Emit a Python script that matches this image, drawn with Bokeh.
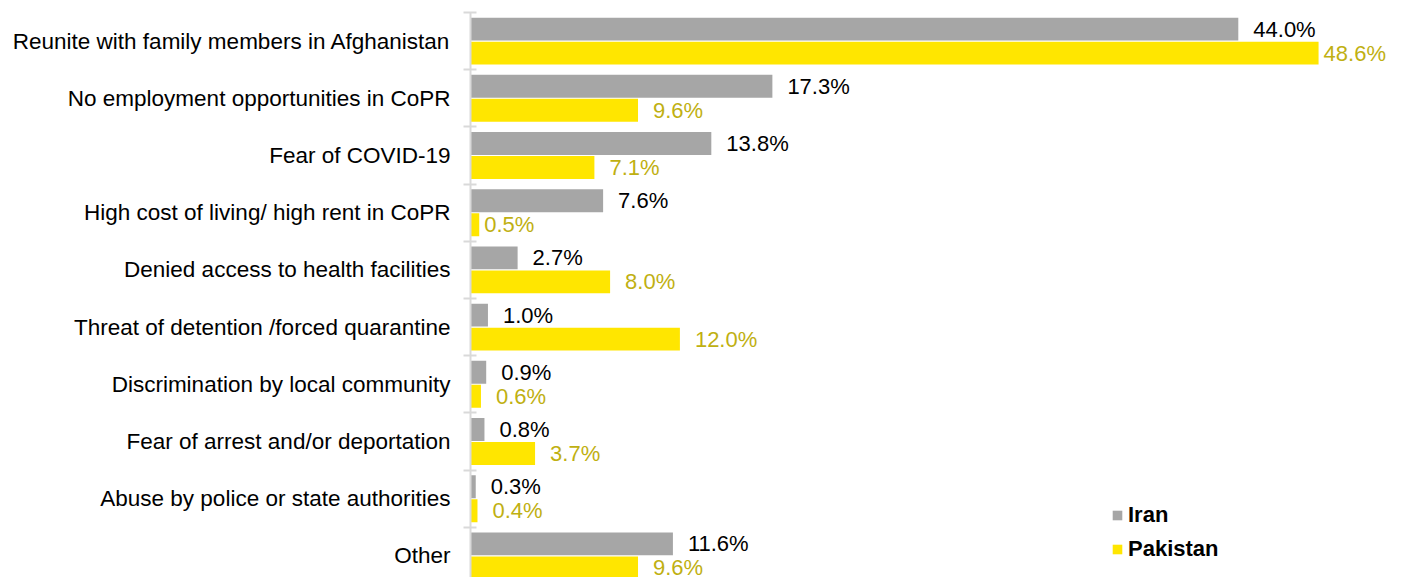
from bokeh.plotting import figure
from bokeh.models import ColumnDataSource, Range1d, FixedTicker, Legend, LegendItem
from bokeh.core.properties import value
from bokeh.embed import file_html
from bokeh.resources import INLINE

categories = [
    "Reunite with family members in Afghanistan",
    "No employment opportunities in CoPR",
    "Fear of COVID-19",
    "High cost of living/ high rent in CoPR",
    "Denied access to health facilities",
    "Threat of detention /forced quarantine",
    "Discrimination by local community",
    "Fear of arrest and/or deportation",
    "Abuse by police or state authorities",
    "Other",
]
iran = [44.0, 17.3, 13.8, 7.6, 2.7, 1.0, 0.9, 0.8, 0.3, 11.6]
pakistan = [48.6, 9.6, 7.1, 0.5, 8.0, 12.0, 0.6, 3.7, 0.4, 9.6]
series_names = ["Iran", "Pakistan"]

IRAN_COLOR = "#A6A6A6"
PAK_COLOR = "#FFE600"
PAK_TEXT = "#BFB012"
FONT = "Liberation Sans"

n = len(categories)
idx = list(range(n))
y_iran = [i + 0.29 for i in idx]
y_pak = [i + 0.71 for i in idx]
# label nudges (style): a couple of Pakistan labels sit closer to the bar end
pak_off = [5 if (v == 48.6 or v == 0.5) else 15 for v in pakistan]

src_i = ColumnDataSource(dict(y=y_iran, v=iran, lab=[f"{v:.1f}%" for v in iran]))
src_p = ColumnDataSource(dict(y=y_pak, v=pakistan, lab=[f"{v:.1f}%" for v in pakistan], off=pak_off))

W, H = 1400, 577
LEFT, TOP = 470, 12
p = figure(width=W, height=H, output_backend="svg", toolbar_location=None,
           x_range=Range1d(0, (W - LEFT) / 17.45), y_range=Range1d((H - TOP) / 57.2, 0),
           min_border_left=LEFT, min_border_right=0, min_border_top=TOP, min_border_bottom=0)
p.outline_line_color = None
p.xgrid.visible = False
p.ygrid.visible = False
p.xaxis.visible = False
p.background_fill_color = "white"
p.border_fill_color = "white"

r_i = p.hbar(y="y", right="v", left=0, height=0.40, source=src_i,
             fill_color=IRAN_COLOR, line_color=None)
r_p = p.hbar(y="y", right="v", left=0, height=0.40, source=src_p,
             fill_color=PAK_COLOR, line_color=None)

p.text(x="v", y="y", text="lab", source=src_i, x_offset=15,
       text_baseline="middle", text_align="left", text_color="black",
       text_font=value(FONT), text_font_size="22px")
p.text(x="v", y="y", text="lab", source=src_p, x_offset="off",
       text_baseline="middle", text_align="left", text_color=PAK_TEXT,
       text_font=value(FONT), text_font_size="22px")

ax = p.yaxis[0]
ax.ticker = FixedTicker(ticks=[i + 0.5 for i in idx], minor_ticks=list(range(n + 1)))
ax.major_label_overrides = {i + 0.5: c for i, c in zip(idx, categories)}
ax.major_tick_line_color = None
ax.major_tick_out = 0
ax.major_tick_in = 0
ax.major_label_standoff = 13
ax.major_label_text_font = FONT
ax.major_label_text_font_size = "22.5px"
ax.major_label_text_color = "black"
ax.axis_line_color = "#D9D9D9"
ax.axis_line_width = 2
ax.minor_tick_line_color = "#D9D9D9"
ax.minor_tick_line_width = 2
ax.minor_tick_out = 7
ax.minor_tick_in = 6

legend = Legend(items=[LegendItem(label=series_names[0], renderers=[r_i]),
                       LegendItem(label=series_names[1], renderers=[r_p])],
                location=(641, 15), orientation="vertical",
                padding=0, margin=0, spacing=8, label_height=22,
                glyph_height=12, glyph_width=12, label_standoff=5,
                label_text_font=FONT, label_text_font_size="22px",
                label_text_font_style="bold", label_text_color="black",
                background_fill_alpha=0, border_line_color=None)
p.add_layout(legend)

open("out.html", "w").write(file_html(p, INLINE))
